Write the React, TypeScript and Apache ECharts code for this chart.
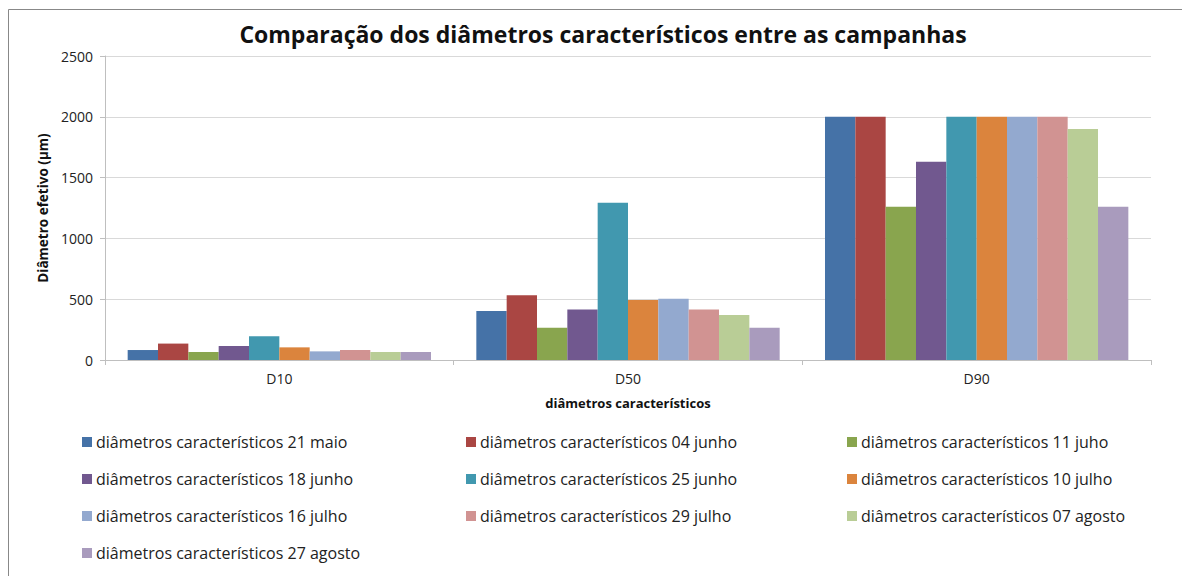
import React, { useEffect, useRef } from "react";
import * as echarts from "echarts";

const categories = ["D10", "D50", "D90"];
const seriesNames = [
  "diâmetros característicos 21 maio",
  "diâmetros característicos 04 junho",
  "diâmetros característicos 11 juho",
  "diâmetros característicos 18 junho",
  "diâmetros característicos 25 junho",
  "diâmetros característicos 10 julho",
  "diâmetros característicos 16 julho",
  "diâmetros característicos 29 julho",
  "diâmetros característicos 07 agosto",
  "diâmetros característicos 27 agosto",
];
const s21maio = [82, 403, 2000];
const s04junho = [135, 532, 2000];
const s11julho = [66, 266, 1260];
const s18junho = [115, 415, 1630];
const s25junho = [195, 1294, 2000];
const s10julho = [104, 493, 2000];
const s16julho = [71, 504, 2000];
const s29julho = [82, 415, 2000];
const s07agosto = [66, 370, 1900];
const s27agosto = [66, 266, 1260];
const seriesValues = [s21maio, s04junho, s11julho, s18junho, s25junho, s10julho, s16julho, s29julho, s07agosto, s27agosto];
const colors = ["#4572A7", "#AA4643", "#89A54E", "#71588F", "#4198AF", "#DB843D", "#93A9CF", "#D19392", "#B9CD96", "#A99BBD"];
const yTicks = [0, 500, 1000, 1500, 2000, 2500];

const FONT = "'Open Sans', 'Noto Sans', sans-serif";

export default function App() {
  const ref = useRef<HTMLDivElement>(null);
  useEffect(() => {
    document.body.style.margin = "0";
    if (!ref.current) return;
    const chart = echarts.init(ref.current, undefined, { renderer: "svg" });
    const legendCol = (idx: number[], left: number) => ({
      orient: "vertical" as const,
      left,
      top: 426,
      itemWidth: 10,
      itemHeight: 10,
      itemGap: 15,
      icon: "rect",
      data: idx.map((i) => seriesNames[i]),
      textStyle: { fontFamily: FONT, fontSize: 16, color: "#222", lineHeight: 22, padding: [0, 0, 0, -1] },
      selectedMode: false,
    });
    chart.setOption({
      animation: false,
      backgroundColor: "#fff",
      color: colors,
      title: {
        text: "Comparação dos diâmetros característicos entre as campanhas",
        left: 598,
        textAlign: "center",
        top: 17,
        textStyle: { fontFamily: FONT, fontSize: 23, fontWeight: "bold", color: "#111" },
      },
      graphic: [
        {
          type: "rect",
          shape: { x: 8.5, y: 9.5, width: 1200, height: 600 },
          style: { fill: "none", stroke: "#888", lineWidth: 1 },
          silent: true,
        },
      ],
      legend: [legendCol([0, 3, 6, 9], 77), legendCol([1, 4, 7], 461), legendCol([2, 5, 8], 842)],
      grid: { left: 105, right: 31, top: 56, bottom: 216, containLabel: false },
      xAxis: {
        type: "category",
        data: categories,
        name: "diâmetros característicos",
        nameLocation: "middle",
        nameGap: 36,
        nameTextStyle: { fontFamily: FONT, fontSize: 13, fontWeight: "bold", color: "#111" },
        axisLine: { lineStyle: { color: "#bfbfbf" } },
        axisTick: { show: true, length: 5, lineStyle: { color: "#bfbfbf" } },
        axisLabel: { fontFamily: FONT, fontSize: 14, color: "#222", margin: 11 },
      },
      yAxis: {
        type: "value",
        min: 0,
        max: 2500,
        interval: 500,
        name: "Diâmetro efetivo (μm)",
        nameLocation: "middle",
        nameGap: 53,
        nameRotate: 90,
        nameTextStyle: { fontFamily: FONT, fontSize: 13.5, fontWeight: "bold", color: "#111" },
        axisLine: { show: true, lineStyle: { color: "#bfbfbf" } },
        axisTick: { show: true, length: 5, lineStyle: { color: "#bfbfbf" } },
        axisLabel: {
          fontFamily: FONT,
          fontSize: 14,
          color: "#222",
          margin: 12,
          formatter: (v: number) => (yTicks.includes(v) ? String(v) : ""),
        },
        splitLine: { lineStyle: { color: "#d9d9d9" } },
      },
      series: seriesValues.map((vals, i) => ({
        name: seriesNames[i],
        type: "bar",
        data: vals,
        barGap: "0%",
        barCategoryGap: "13%",
        itemStyle: { color: colors[i] },
      })),
    });
    return () => chart.dispose();
  }, []);
  return <div ref={ref} style={{ width: 1182, height: 576 }} />;
}
